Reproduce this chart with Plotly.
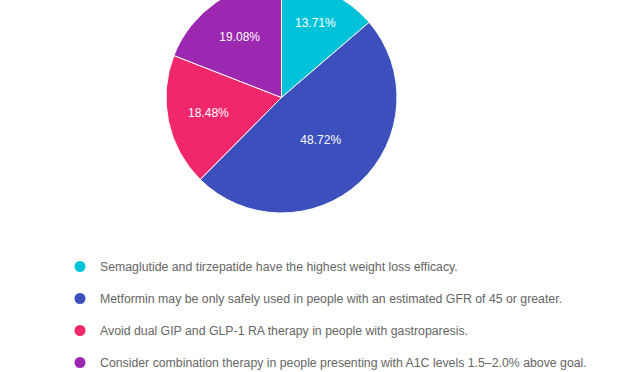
import plotly.graph_objects as go

labels = [
    "Semaglutide and tirzepatide have the highest weight loss efficacy.",
    "Metformin may be only safely used in people with an estimated GFR of 45 or greater.",
    "Avoid dual GIP and GLP-1 RA therapy in people with gastroparesis.",
    "Consider combination therapy in people presenting with A1C levels 1.5\u20132.0% above goal.",
]
values = [13.71, 48.72, 18.48, 19.08]
colors = ["#00C3DA", "#3B50BC", "#F0276A", "#9C27B0"]

W, H = 637, 390
FONT = "Arial, Liberation Sans, sans-serif"

fig = go.Figure()
fig.add_trace(go.Pie(
    labels=labels, values=values, sort=False, direction="clockwise", rotation=0,
    marker=dict(colors=colors, line=dict(color="white", width=1)),
    texttemplate="%{percent:.2%}", textposition="inside", insidetextorientation="horizontal",
    textfont=dict(color="white", size=12, family=FONT),
    domain=dict(x=[166 / W, 397 / W], y=[1 - 231 / H, 1]),
    showlegend=False, hoverinfo="label+percent",
))
for lab, col in zip(labels, colors):
    fig.add_trace(go.Scatter(
        x=[None], y=[None], mode="markers", name=lab, legendgroup=lab,
        marker=dict(symbol="circle", size=11, color=col),
    ))

fig.update_layout(
    width=W, height=H,
    margin=dict(l=0, r=0, t=0, b=0, autoexpand=False),
    paper_bgcolor="white", plot_bgcolor="white",
    xaxis=dict(visible=False), yaxis=dict(visible=False),
    font=dict(family=FONT, size=12, color="#666666"),
    legend=dict(
        x=60 / W, xanchor="left", y=1 - 270 / H, yanchor="top",
        tracegroupgap=13, font=dict(size=12.3, color="#666666", family=FONT),
        bgcolor="rgba(0,0,0,0)", itemclick=False, itemdoubleclick=False,
    ),
)

fig.write_html(
    "out.html",
    config={"displayModeBar": False, "responsive": False},
    post_script="var gd=document.getElementById('{plot_id}');gd.style.marginTop='-18px';document.body.style.margin='0';document.body.style.overflow='hidden';",
)
